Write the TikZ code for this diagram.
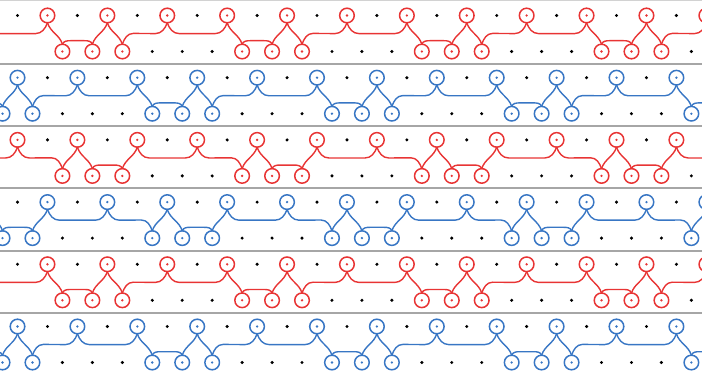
\documentclass[tikz,border=0pt]{standalone}
\usetikzlibrary{calc}

\definecolor{loopred}{RGB}{232,52,52}
\definecolor{loopblue}{RGB}{56,118,196}

\tikzset{
  rule/.style={gray!70, line width=1.9pt},
  site/.style={circle, fill=black, inner sep=0pt, minimum size=3.4pt},
  ring/.style={circle, fill=white, line width=1.5pt, inner sep=0pt,
    outer sep=0pt, minimum size=14.6pt},
  wire/.style={line width=1.4pt, line cap=round, line join=round},
}

% connectors between the touching points of two rings
\newcommand\sdn[2]{\draw[wire] (#1.south) to[out=-72,in=108] (#2.north);}
\newcommand\rise[2]{\draw[wire] (#1.north) to[out=72,in=-108] (#2.south);}
\newcommand\topgap[2]{\draw[wire] (#1.south) to[out=-70,in=180] ($(#1.south)+(12,-10.8)$)
  -- ($(#2.south)+(-12,-10.8)$) to[out=0,in=-110] (#2.south);}
\newcommand\lowgap[2]{\draw[wire] (#1.north) to[out=70,in=180] ($(#1.north)+(8,3.5)$)
  -- ($(#2.north)+(-8,3.5)$) to[out=0,in=110] (#2.north);}
\newcommand\climb[2]{\draw[wire] (#1.north) to[out=70,in=180] ($(#1.north)+(11,10.8)$)
  -- ($(#2.south)+(-12,-10.8)$) to[out=0,in=-110] (#2.south);}
\newcommand\drop[2]{\draw[wire] (#1.south) to[out=-70,in=180] ($(#1.south)+(12,-10.8)$)
  -- ($(#2.north)+(-11,10.8)$) to[out=0,in=110] (#2.north);}

% one wire per strip, period of twelve half columns
\newcommand\wireAR[1]{% tops 2,6,10 / bottoms 3,5,7
  \foreach \p [evaluate=\p as \q using int(\p+12)] in {0,12,...,48} {
    \sdn{#1-\p-2}{#1-\p-3} \lowgap{#1-\p-3}{#1-\p-5} \rise{#1-\p-5}{#1-\p-6}
    \sdn{#1-\p-6}{#1-\p-7} \climb{#1-\p-7}{#1-\p-10} \topgap{#1-\p-10}{#1-\q-2}
  }}
\newcommand\wireBB[1]{% tops 0,4,8 / bottoms 1,9,11
  \foreach \p [evaluate=\p as \q using int(\p+12)] in {0,12,...,48} {
    \sdn{#1-\p-0}{#1-\p-1} \climb{#1-\p-1}{#1-\p-4} \topgap{#1-\p-4}{#1-\p-8}
    \sdn{#1-\p-8}{#1-\p-9} \lowgap{#1-\p-9}{#1-\p-11} \rise{#1-\p-11}{#1-\q-0}
  }}
\newcommand\wireBR[1]{% tops 0,4,8 / bottoms 3,5,7
  \foreach \p [evaluate=\p as \q using int(\p+12)] in {0,12,...,48} {
    \drop{#1-\p-0}{#1-\p-3} \rise{#1-\p-3}{#1-\p-4} \sdn{#1-\p-4}{#1-\p-5}
    \lowgap{#1-\p-5}{#1-\p-7} \rise{#1-\p-7}{#1-\p-8} \topgap{#1-\p-8}{#1-\q-0}
  }}
\newcommand\wireAB[1]{% tops 2,6,10 / bottoms 1,9,11
  \foreach \p [evaluate=\p as \q using int(\p+12)] in {0,12,...,48} {
    \rise{#1-\p-1}{#1-\p-2} \topgap{#1-\p-2}{#1-\p-6} \drop{#1-\p-6}{#1-\p-9}
    \rise{#1-\p-9}{#1-\p-10} \sdn{#1-\p-10}{#1-\p-11} \lowgap{#1-\p-11}{#1-\q-1}
  }}

\begin{document}
\begin{tikzpicture}[x=1pt, y=1pt]
\useasboundingbox (0,0) rectangle (702,-374);
\clip (0,0) rectangle (702,-374);

% strip borders
\draw[gray!35, line width=1pt] (0,-1) -- (702,-1);
\foreach \j in {0,...,4}
  \draw[rule] (0,{-64-62.2*\j}) -- (702,{-64-62.2*\j});

% lattice sites and rings, strip by strip
\foreach \j/\tone/\tl/\bl/\bs in {0/loopred/{2,6,10}/{3,5,7}/15,
    1/loopblue/{0,4,8}/{1,9,11}/11, 2/loopred/{0,4,8}/{3,5,7}/15,
    3/loopblue/{2,6,10}/{1,9,11}/11, 4/loopred/{2,6,10}/{3,5,7}/15,
    5/loopblue/{0,4,8}/{1,9,11}/11} {
  \pgfmathsetmacro\yt{-15.5-62.2*\j}
  \pgfmathsetmacro\yb{-51.5-62.2*\j}
  \pgfmathtruncatemacro\bn{\bs+2}
  \foreach \h in {12,14,...,58}
    \node[site] (s\j-\h) at ({-162.2+14.975*\h},\yt) {};
  \foreach \h in {\bs,\bn,...,59}
    \node[site] (s\j-\h) at ({-162.2+14.975*\h},\yb) {};
  \foreach \p in {0,12,...,60} {
    \foreach \t in \tl {
      \node[ring, draw=\tone] (c\j-\p-\t) at ({-162.2+14.975*(\p+\t)},\yt) {};
      \fill[\tone] (c\j-\p-\t) circle (1.3pt);
    }
    \foreach \b in \bl {
      \node[ring, draw=\tone] (c\j-\p-\b) at ({-162.2+14.975*(\p+\b)},\yb) {};
      \fill[\tone] (c\j-\p-\b) circle (1.3pt);
    }
  }
}

% the wires
\begin{scope}[color=loopred]
  \wireAR{c0} \wireBR{c2} \wireAR{c4}
\end{scope}
\begin{scope}[color=loopblue]
  \wireBB{c1} \wireAB{c3} \wireBB{c5}
\end{scope}
\end{tikzpicture}
\end{document}
